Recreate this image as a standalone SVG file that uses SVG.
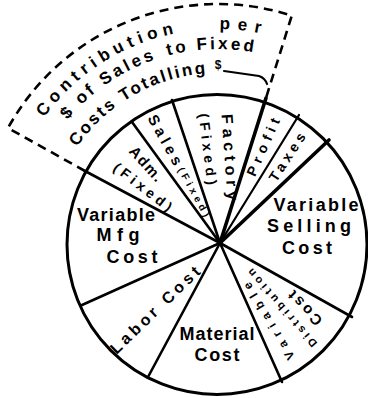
<svg xmlns="http://www.w3.org/2000/svg" width="368" height="398" viewBox="0 0 368 398">
<style>
.ln{stroke:#000;fill:none;stroke-linecap:round}
.sp{stroke-width:2.6}
.tk{stroke-width:3.6}
.tn{stroke-width:2.2}
.ds{stroke:#000;fill:none;stroke-width:2.6;stroke-dasharray:9 6}
text{font-family:"Liberation Sans",Arial,sans-serif;font-weight:bold;fill:#000}
.h{font-size:18px;text-anchor:middle}
.r{text-anchor:middle}
.a{font-size:17px}
</style>
<defs>
<path id="arc1" d="M44.1,117.6 A215,215 0 0 1 260.9,33.3"/>
<path id="arc2" d="M67.5,120 A195,195 0 0 1 253.5,52.3"/>
<path id="arc3" d="M77.1,147.1 A171,171 0 0 1 207.6,73.3"/>
</defs>
<rect width="368" height="398" fill="#fff"/>
<g id="pie-outline">
<circle class="ln" cx="217" cy="244.5" r="150" stroke-width="3"/>
</g>
<g id="connectors">
<line class="ln sp" x1="220" y1="243" x2="172" y2="100"/>
<line class="ln tk" x1="220" y1="243" x2="266" y2="98"/>
<line class="ln tn" x1="220" y1="243" x2="299" y2="115"/>
<line class="ln tk" x1="220" y1="243" x2="329" y2="140"/>
<line class="ln sp" x1="220" y1="243" x2="352" y2="317"/>
<line class="ln sp" x1="220" y1="243" x2="282" y2="382"/>
<line class="ln sp" x1="220" y1="243" x2="148" y2="377"/>
<line class="ln sp" x1="220" y1="243" x2="82" y2="305"/>
<line class="ln sp" x1="220" y1="243" x2="85" y2="171"/>
<line class="ln sp" x1="220" y1="243" x2="132" y2="122"/>
</g>
<g id="contribution-band">
<path class="ds" d="M85,171 L8,128 A240,240 0 0 1 291.8,15.6 L266,98"/>
<text class="a"><textPath href="#arc1" textLength="158" lengthAdjust="spacing">Contribution</textPath></text>
<text class="a"><textPath href="#arc1" startOffset="204" textLength="41" lengthAdjust="spacing">per</textPath></text>
<text class="a"><textPath href="#arc2" textLength="107" lengthAdjust="spacing">$ of Sales</textPath></text>
<text class="a"><textPath href="#arc2" startOffset="121" textLength="86" lengthAdjust="spacing">to Fixed</textPath></text>
<text class="a"><textPath href="#arc3" textLength="153" lengthAdjust="spacing">Costs Totalling</textPath></text>
<text x="218" y="69" font-size="12" class="r">$</text>
<path class="ln" stroke-width="2.2" d="M224,71 L259,76 Q265,78 267,84"/>
</g>
<g id="sales-fixed">
<text class="r" font-size="15" transform="translate(165,140) rotate(61)" y="5" textLength="55" lengthAdjust="spacing">Sales</text>
<text class="r" font-size="10" transform="translate(194,192) rotate(61)" y="3.5" textLength="55" lengthAdjust="spacing">(Fixed)</text>
</g>
<g id="factory-fixed">
<text class="r" font-size="16" transform="translate(230,157) rotate(86)" y="5.5" textLength="86" lengthAdjust="spacing">Factory</text>
<text class="r" font-size="14" transform="translate(208,149) rotate(83)" y="5" textLength="72" lengthAdjust="spacing">(Fixed)</text>
</g>
<g id="adm-fixed">
<text class="r" font-size="15" transform="translate(146,164) rotate(48)" y="5" textLength="42" lengthAdjust="spacing">Adm.</text>
<text class="r" font-size="14" transform="translate(143,187) rotate(38)" y="5" textLength="70" lengthAdjust="spacing">(Fixed)</text>
</g>
<g id="profit">
<text class="r" font-size="14" transform="translate(263,147) rotate(-66)" y="5" textLength="62" lengthAdjust="spacing">Profit</text>
</g>
<g id="taxes">
<text class="r" font-size="14" transform="translate(287,157) rotate(-57)" y="5" textLength="55" lengthAdjust="spacing">Taxes</text>
</g>
<g id="variable-selling-cost">
<text class="h" x="316" y="211" textLength="85" lengthAdjust="spacing">Variable</text>
<text class="h" x="309" y="232" textLength="84" lengthAdjust="spacing">Selling</text>
<text class="h" x="307" y="254" textLength="50" lengthAdjust="spacing">Cost</text>
</g>
<g id="variable-distribution-cost">
<text class="r" font-size="12" transform="translate(269,321) rotate(239)" y="4" textLength="88" lengthAdjust="spacing">Variable</text>
<text class="r" font-size="11" transform="translate(282,308) rotate(229)" y="4" textLength="100" lengthAdjust="spacing">Distribution</text>
<text class="r" font-size="15" transform="translate(305,308) rotate(226)" y="5" textLength="42" lengthAdjust="spacing">Cost</text>
</g>
<g id="material-cost">
<text class="h" x="217" y="340" textLength="75" lengthAdjust="spacing">Material</text>
<text class="h" x="217" y="361" textLength="45" lengthAdjust="spacing">Cost</text>
</g>
<g id="labor-cost">
<text class="r" font-size="16" transform="translate(155,310) rotate(-44)" y="5.5" textLength="118" lengthAdjust="spacing">Labor Cost</text>
</g>
<g id="variable-mfg-cost">
<text class="h" x="116" y="221" textLength="78" lengthAdjust="spacing">Variable</text>
<text class="h" x="118" y="241" textLength="43" lengthAdjust="spacing">Mfg</text>
<text class="h" x="132" y="263" textLength="51" lengthAdjust="spacing">Cost</text>
</g>
</svg>
